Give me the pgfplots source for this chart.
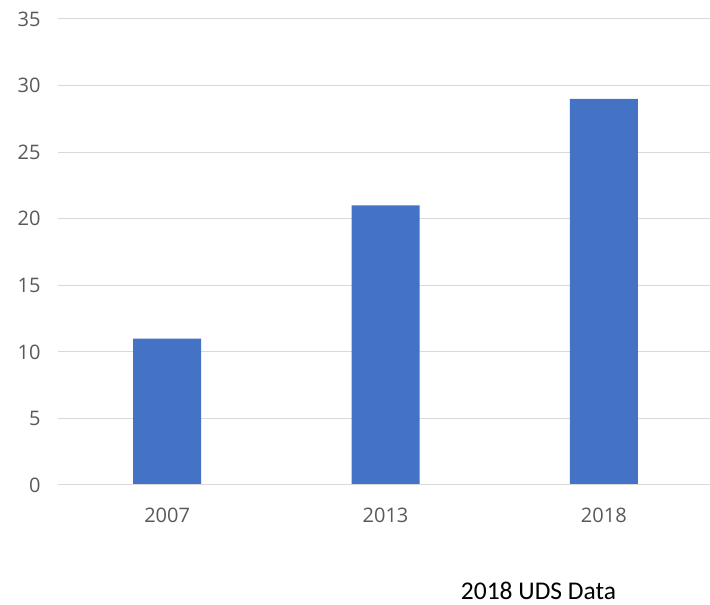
\documentclass[border=0pt]{standalone}
\usepackage{pgfplots}
\pgfplotsset{compat=1.18}
\usepackage{fontspec}
\setmainfont{Open Sans}
\newfontfamily\carlito{Carlito}
\definecolor{barblue}{HTML}{4472C4}
\definecolor{gridgray}{HTML}{D9D9D9}
\definecolor{ticktext}{HTML}{595959}
\begin{document}
\begin{tikzpicture}[x=1pt,y=1pt]
\path[use as bounding box] (-58,-120) rectangle (652,485);
\begin{axis}[
    at={(0,0)}, anchor=south west,
    scale only axis,
    width=655pt, height=466pt,
    xmin=-0.5, xmax=2.5,
    ymin=0, ymax=35,
    ytick={0,5,...,35},
    xtick={0,1,2},
    xticklabels={2007,2013,2018},
    axis line style={draw=none},
    major tick length=0pt,
    ymajorgrids,
    grid style={gridgray, line width=1pt},
    tick label style={font=\fontsize{20}{24}\selectfont, text=ticktext},
    /pgf/number format/assume math mode=true,
    yticklabel style={xshift=-14pt},
    xticklabel style={yshift=-19pt},
    clip=false,
  ]
  \addplot[ybar, bar width=68pt, fill=barblue, draw=none] coordinates {
      (0, 11)
      (1, 21)
      (2, 29)
  };
  \draw[gridgray, line width=1pt] (axis cs:-0.5,0) -- (axis cs:2.5,0);
\end{axis}
\node[anchor=base, inner sep=0pt, font=\carlito\fontsize{25.5}{30}\selectfont] at (480.5,-115) {2018 UDS Data};
\end{tikzpicture}
\end{document}
